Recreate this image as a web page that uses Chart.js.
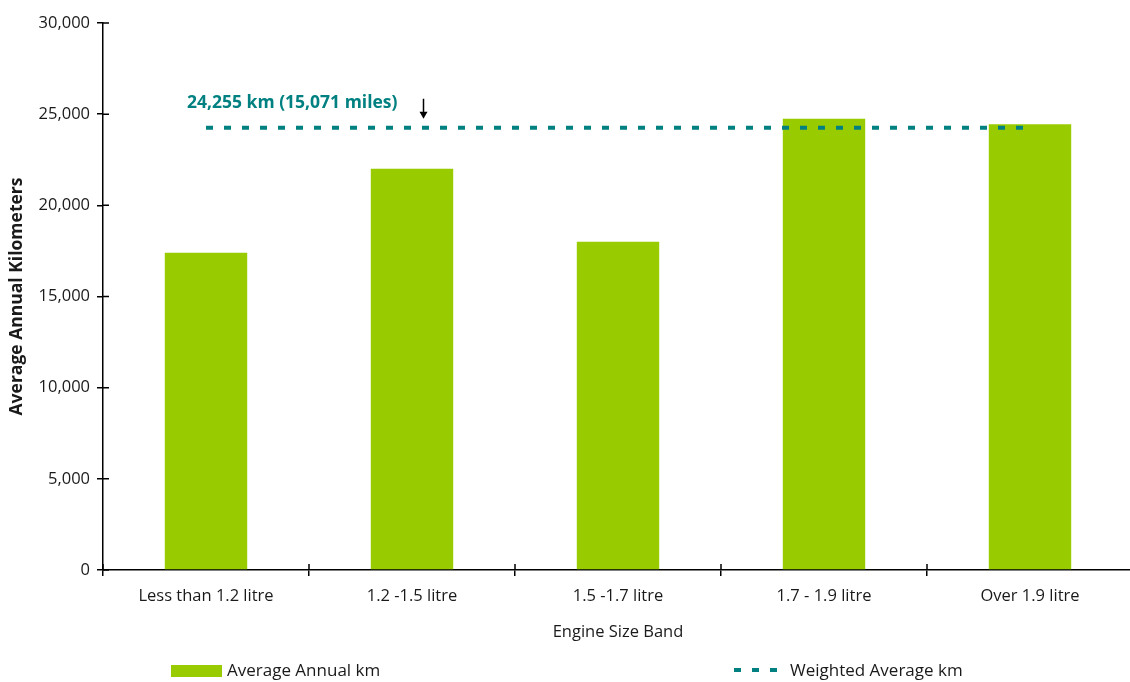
<!DOCTYPE html>
<html>
<head>
<meta charset="utf-8">
<script src="https://cdn.jsdelivr.net/npm/chart.js@4.4.1/dist/chart.umd.min.js"></script>
<style>
  html, body { margin: 0; padding: 0; overflow: hidden; background: #ffffff; }
  #wrap { width: 1133px; height: 682px; }
</style>
</head>
<body>
<div id="wrap"><canvas id="chart"></canvas></div>
<script>
// Engine size bands and the average distance driven per year in each
const categories = ['Less than 1.2 litre', '1.2 -1.5 litre', '1.5 -1.7 litre', '1.7 - 1.9 litre', 'Over 1.9 litre'];
const averageAnnualKm = [17400, 22000, 18000, 24750, 24450];
const weightedAverageKm = 24255;
const weightedAverageMiles = 15071;
const yTickValues = [0, 5000, 10000, 15000, 20000, 25000, 30000];

const GREEN = '#99cc00';
const TEAL = '#008080';
const INK = '#1a1a1a';
const FONT = "'Open Sans', sans-serif";

// Tick marks that cross the axis lines (inner half; the outer half is the scale's own tick)
const crossTicks = {
  id: 'crossTicks',
  afterDraw(chart) {
    const {ctx, chartArea, scales: {x, y}} = chart;
    ctx.save();
    ctx.strokeStyle = '#000';
    ctx.lineWidth = 1.5;
    ctx.beginPath();
    y.ticks.forEach((t, i) => {
      const py = y.getPixelForTick(i);
      ctx.moveTo(chartArea.left, py);
      ctx.lineTo(chartArea.left + 6, py);
    });
    for (let i = 0; i <= categories.length; i++) {
      const px = x.getPixelForValue(i - 0.5);
      ctx.moveTo(px, chartArea.bottom);
      ctx.lineTo(px, chartArea.bottom - 6);
    }
    ctx.stroke();
    ctx.restore();
  }
};

// Label and pointer for the weighted average line
const averageLabel = {
  id: 'averageLabel',
  afterDatasetsDraw(chart) {
    const {ctx, scales: {x, y}} = chart;
    const ly = y.getPixelForValue(weightedAverageKm);
    const text = weightedAverageKm.toLocaleString('en-US') + ' km (' +
                 weightedAverageMiles.toLocaleString('en-US') + ' miles)';
    ctx.save();
    ctx.font = "bold 17.5px " + FONT;
    ctx.fillStyle = TEAL;
    ctx.textBaseline = 'middle';
    ctx.textAlign = 'left';
    ctx.fillText(text, x.getPixelForValue(0) - 19, ly - 25);

    const ax = x.getPixelForValue(1) + 11.5;
    const tip = ly - 9;
    ctx.strokeStyle = '#000';
    ctx.fillStyle = '#000';
    ctx.lineWidth = 1.5;
    ctx.beginPath();
    ctx.moveTo(ax, ly - 29);
    ctx.lineTo(ax, tip - 5);
    ctx.stroke();
    ctx.beginPath();
    ctx.moveTo(ax - 4, tip - 7);
    ctx.lineTo(ax + 4, tip - 7);
    ctx.lineTo(ax, tip);
    ctx.closePath();
    ctx.fill();
    ctx.restore();
  }
};

// Legend row under the axis title
const bottomLegend = {
  id: 'bottomLegend',
  afterDraw(chart) {
    const {ctx} = chart;
    const ds = chart.data.datasets;
    const cy = 671;
    ctx.save();
    ctx.font = "17px " + FONT;
    ctx.fillStyle = INK;
    ctx.textBaseline = 'middle';
    ctx.textAlign = 'left';

    ctx.fillStyle = ds[0].backgroundColor;
    ctx.fillRect(171, cy - 6, 51, 12);
    ctx.fillStyle = INK;
    ctx.fillText(ds[0].label, 227, cy);

    ctx.strokeStyle = ds[1].borderColor;
    ctx.lineWidth = 4;
    ctx.setLineDash([7, 11]);
    ctx.beginPath();
    ctx.moveTo(734, cy - 1);
    ctx.lineTo(778, cy - 1);
    ctx.stroke();
    ctx.setLineDash([]);
    ctx.fillText(ds[1].label, 790, cy);
    ctx.restore();
  }
};

new Chart(document.getElementById('chart'), {
  data: {
    labels: categories,
    datasets: [
      {
        type: 'bar',
        label: 'Average Annual km',
        data: averageAnnualKm,
        backgroundColor: GREEN,
        borderWidth: 0,
        barPercentage: 0.8,
        categoryPercentage: 0.5,
        order: 2
      },
      {
        type: 'line',
        label: 'Weighted Average km',
        data: categories.map(() => weightedAverageKm),
        borderColor: TEAL,
        borderWidth: 4,
        borderDash: [7, 11],
        pointRadius: 0,
        fill: false,
        order: 1
      }
    ]
  },
  options: {
    responsive: true,
    maintainAspectRatio: false,
    animation: false,
    layout: { padding: { top: 23, right: 0, bottom: 40, left: 0 } },
    plugins: {
      legend: { display: false },
      tooltip: { enabled: false }
    },
    scales: {
      x: {
        grid: { drawOnChartArea: false, tickLength: 6, color: '#000', lineWidth: 1.5, offset: true },
        border: { color: '#000', width: 1.5 },
        ticks: { color: INK, font: { family: FONT, size: 16.5 }, padding: 10, maxRotation: 0 },
        title: { display: true, text: 'Engine Size Band', color: INK,
                 font: { family: FONT, size: 16.5 }, padding: { top: 4, bottom: 0 } },
        afterFit(scale) { scale.height = 72; }
      },
      y: {
        min: 0,
        max: 30000,
        afterBuildTicks(scale) { scale.ticks = yTickValues.map(v => ({ value: v })); },
        grid: { drawOnChartArea: false, tickLength: 6, color: '#000', lineWidth: 1.5 },
        border: { color: '#000', width: 1.5 },
        ticks: { color: INK, font: { family: FONT, size: 16.5 }, padding: 7,
                 callback: v => v.toLocaleString('en-US') },
        title: { display: true, text: 'Average Annual Kilometers', color: INK,
                 font: { family: FONT, size: 17.5, weight: 'bold' }, padding: { top: 7, bottom: 0 } },
        afterFit(scale) { scale.width = 103; }
      }
    }
  },
  plugins: [crossTicks, averageLabel, bottomLegend]
});
</script>
</body>
</html>
